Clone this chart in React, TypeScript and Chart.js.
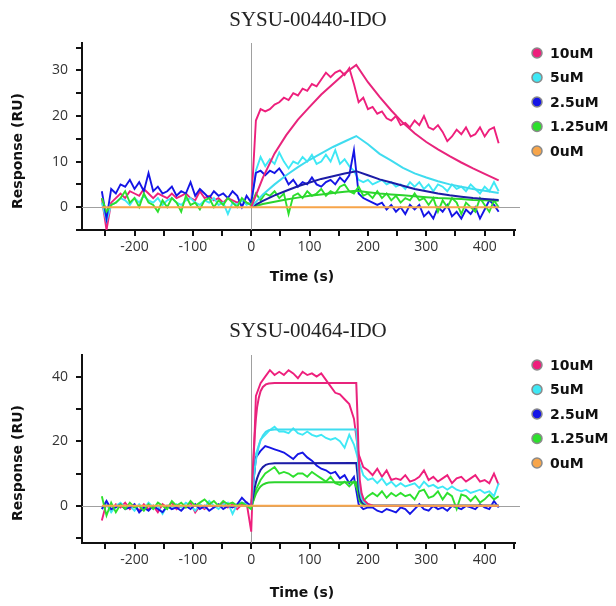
import React, { useEffect, useRef } from 'react';
import { Chart, registerables } from 'chart.js';

Chart.register(...registerables);

// ---------- shared ----------
const TIME = [
  -256, -248, -240, -232, -224, -216, -208, -200, -192, -184, -176, -168, -160, -152, -144, -136,
  -128, -120, -112, -104, -96, -88, -80, -72, -64, -56, -48, -40, -32, -24, -16, -8,
  0, 8, 16, 24, 32, 40, 48, 56, 64, 72, 80, 88, 96, 104, 112, 120, 128, 136, 144, 152, 160, 168,
  176, 184, 192, 200, 208, 216, 224, 232, 240, 248, 256, 264, 272, 280, 288, 296, 304, 312, 320,
  328, 336, 344, 352, 360, 368, 376, 384, 392, 400, 408, 416, 424,
];
const ZERO_TIME = [-256, 424];
const ZERO_VALUES = [0, 0];

const LEGEND_LABELS = ['10uM', '5uM', '2.5uM', '1.25uM', '0uM'];
const COLORS = ['#ee1f7c', '#3ee8f5', '#1515e6', '#2de02d', '#f7a54a'];
const FIT_COLORS = ['#e8247c', '#3fdcef', '#1c1ca6', '#2cd42c'];

const X_LABELS = [-200, -100, 0, 100, 200, 300, 400];

// ---------- chart A : SYSU-00440-IDO ----------
const A_TITLE = 'SYSU-00440-IDO';
const A_Y_LABELS = [0, 10, 20, 30];
const A_10 = [
  2, -5, 1, 2, 3, 2, 3.5, 3, 2.5, 4, 3, 2, 3, 2.5, 2, 3, 2, 2.5, 3, 2, 1.5, 3.5, 2, 2.5, 1.5, 2, 1, 2, 1.5, 1, 1.5, 1,
  0.5, 19, 21.5, 21, 21.5, 22.5, 23, 24, 23.5, 25, 24.5, 26, 25.5, 27, 26.5, 28, 29.5, 28.5, 29.5, 30,
  29, 30.5, 27, 23, 24, 21.5, 22, 20.5, 21, 19.5, 19, 20, 18, 18.5, 17.5, 19, 18, 20, 17.5, 17,
  18, 16.5, 14.5, 15.5, 17, 16, 17.5, 15.5, 16, 17.5, 15.5, 17, 17.5, 14,
];
const A_5 = [
  1, -3, 0.5, 1, 2, 1.5, 0.5, 2, 1, 2.5, 1.5, 1, 2, 0.5, 1.5, 2, 1, 0.5, 1.5, 2, 1, 0.5, 1.5, 1, 2, 0.5, 1, -1.5, 1, 0.5, 1.5, 0.5,
  1, 8, 11, 9, 10.5, 9.5, 12, 10, 8.5, 10, 9.5, 11, 10, 11.5, 9.5, 10, 11.5, 10, 12.5, 9.5,
  10.5, 9, 8, 6, 5.5, 6, 5, 5.5, 6, 5, 5.5, 4.5, 5, 4, 5.5, 4.5, 5.5, 4, 5, 3.5,
  5, 4.5, 3.5, 5, 4, 4.5, 3.5, 5, 4, 3, 4.5, 3.5, 5.5, 3.5,
];
const A_25 = [
  3.5, -2.5, 4, 3, 5, 4.5, 6, 4, 5.5, 3.5, 7.5, 3.5, 4.5, 3, 3.5, 4.5, 2.5, 3.5, 3, 5.5, 2.5, 4, 3, 2, 3.5, 2.5, 3, 2, 3.5, 2.5, 0, 2.5,
  1, 7.5, 8, 7, 8, 7.5, 8.5, 7, 5, 6, 4.5, 5.5, 5, 6.5, 5, 4.5, 5.5, 6, 5, 6.5,
  5.5, 7, 12.5, 3, 2, 1.5, 1, 0.5, 1, -0.5, 0.5, -1, 0, -1.5, 0.5, -0.5, 0.5, -2, -1, -2.5,
  0, -1, 0.5, -2, -1, -2.5, -0.5, -1.5, 0, -2.5, -0.5, 1.5, 0.5, -1,
];
const A_125 = [
  2, -1, 0.5, 1, 2, 3.5, 1, 2, 0, 3, 1, 0.5, -1, 1.5, 0, 2, 1, -1, 2.5, 0.5, 1, -0.5, 1.5, 2, 0, 1.5, 0.5, 2, 1, 0, 2, 1,
  0.5, 3, 1.5, 3, 2.5, 3.5, 2, 3, -1.5, 2.5, 3, 2, 3.5, 2.5, 3, 4, 2.5, 3.5, 3, 4.5,
  5, 3.5, 3, 4.5, 2.5, 3, 2, 3.5, 2, 3, 1.5, 2.5, 1, 2, 1.5, 3, 1.5, 2, 0.5, 2,
  -1, 1.5, 0, 2, 1, -1.5, 1, 0, -1, 2, 0.5, -1, 1.5, 0,
];
const A_FIT_TIME = [0, 20, 40, 60, 80, 100, 120, 140, 160, 180, 200, 220, 240, 260, 280, 300, 320, 340, 360, 380, 400, 424];
const A_FIT_10 = [0, 6.5, 11.8, 15.8, 19.2, 22, 24.7, 27, 29.3, 31.2, 27.4, 24.2, 21.2, 18.5, 16.2, 14.3, 12.7, 11.2, 9.8, 8.5, 7.3, 5.9];
const A_FIT_5 = [0, 2.8, 5, 7, 8.8, 10.4, 11.8, 13.2, 14.4, 15.6, 13.8, 11.7, 10.2, 8.6, 7.4, 6.5, 5.7, 5, 4.5, 4, 3.6, 3.1];
const A_FIT_25 = [0, 1.4, 2.6, 3.6, 4.6, 5.4, 6.2, 6.8, 7.4, 7.9, 7, 6.1, 5.4, 4.7, 4, 3.5, 3, 2.6, 2.3, 2, 1.8, 1.6];
const A_FIT_125 = [0, 0.7, 1.2, 1.7, 2.1, 2.5, 2.8, 3.1, 3.4, 3.6, 3.3, 3, 2.8, 2.6, 2.4, 2.2, 2, 1.9, 1.8, 1.6, 1.5, 1.4];

// ---------- chart B : SYSU-00464-IDO ----------
const B_TITLE = 'SYSU-00464-IDO';
const B_Y_LABELS = [0, 20, 40];
const B_10 = [
  -4.5, 1, -1.5, 0.5, -0.5, 1, -1, 0, -1.5, 0.5, -1, 0, -2, 0.5, -0.5, 1, -1, 0, -0.5, 1, -2, 0, -1, 0.5, -0.5, 0, 1, -0.5, 0.5, -1, 0.5, 1,
  -8, 34, 38, 40, 42, 40.5, 41.5, 40.5, 42, 41, 39.5, 41.5, 40.5, 41, 40, 41, 39, 37, 35, 34.5,
  33, 31.5, 27, 16, 12, 11, 9.5, 11.5, 9, 11, 8, 8.5, 8, 9.5, 7.5, 8, 9, 11, 8, 9,
  7.5, 8.5, 9.5, 7, 8.5, 9, 7.5, 8.5, 9.5, 7.5, 8, 7, 10, 6.5,
];
const B_5 = [
  -1, 0.5, -2, 0, 1, -0.5, 0, -1.5, 0.5, -1, 1, -0.5, 0, -2.5, 0, -1, 0.5, -0.5, 1, 0, -1.5, 0.5, -0.5, 1.5, 0, -1, 0.5, 1, -2.5, 0.5, 1, 0.5,
  0, 16, 20.5, 22, 23.5, 24.5, 23, 23, 22.5, 24, 22.5, 22, 23, 22, 21.5, 22, 21, 20.5, 21, 20,
  18, 22, 19, 14, 9.5, 8, 8.5, 7, 8.5, 6.5, 7.5, 6, 7, 6, 6.5, 7, 5.5, 7.5, 6, 6.5,
  5.5, 6, 5, 6, 5, 4.5, 5, 4, 4.5, 5, 4, 4.5, 3, 7,
];
const B_25 = [
  -1, 1.5, -1, -0.5, 0.5, -1, -0.5, 0.5, -2, -0.5, -1.5, 0, -1, -2, 0, -1, -0.5, -1.5, 0, -1, 0.5, -1, 0, -1.5, -0.5, 0.5, -1, 0, -0.5, 0.5, 2.5, 1,
  0, 15, 17, 18.5, 18, 17.5, 17, 16.5, 15.5, 14.5, 16, 16.5, 15, 14, 12.5, 11.5, 11, 10, 10.5, 8.5,
  9.5, 7, 9, 0.5, -1, -0.5, -0.5, -1.5, -2, -1, -1.5, -2, -0.5, -1, -2.5, -1, 0.5, -1, -1.5, 0,
  -1, -0.5, -1.5, 0, -0.5, -1, 0, -0.5, -1, 0.5, -0.5, -1, 1.5, -0.5,
];
const B_125 = [
  3, -3, 1, -2, 0.5, -1, 1, -0.5, 0, -1.5, 0.5, -1, 1, 0, -1, 1.5, 0, 1, -0.5, 1.5, 0, 1, 2, 0.5, 1.5, 0, 1.5, 0.5, 1, 0, 1, 0,
  -1, 5, 8, 10, 11, 12, 10, 10.5, 10, 9, 10, 10, 9, 10.5, 9.5, 8.5, 7.5, 9, 7, 6.5,
  7.5, 6, 7.5, 4, 1.5, 3, 4, 3, 4.5, 2.5, 4, 3, 4, 3, 3.5, 2, 4.5, 5, 2.5, 3,
  4.5, 2, 4, 3, -1, 3.5, 3, 1.5, 3, 1, 2, 3.5, 2, 3,
];
const B_FIT_TIME = [0, 2, 4, 6, 8, 10, 13, 16, 20, 25, 30, 40, 180, 182, 184, 186, 189, 193, 200, 210, 424];
const B_FIT_10 = [0, 8, 16, 22, 27, 30.5, 33.5, 35.5, 36.8, 37.6, 37.9, 38, 38, 28, 16, 8, 4, 1.8, 0.6, 0, 0];
const B_FIT_5 = [0, 4, 8, 11.5, 14, 16, 18.5, 20.3, 21.8, 22.9, 23.4, 23.6, 23.6, 17.5, 10, 5, 2.4, 1.1, 0.4, 0, 0];
const B_FIT_25 = [0, 1.8, 3.8, 5.6, 7.2, 8.5, 10, 11.1, 12, 12.7, 13, 13.2, 13.3, 9.8, 5.6, 2.8, 1.3, 0.6, 0.2, 0, 0];
const B_FIT_125 = [0, 0.8, 1.8, 2.8, 3.7, 4.4, 5.3, 6, 6.6, 7, 7.2, 7.3, 7.3, 5.4, 3.1, 1.5, 0.7, 0.3, 0.1, 0, 0];

// ---------- helpers ----------
const pts = (xs: number[], ys: number[]) => xs.map((x, i) => ({ x, y: ys[i] }));

const TICK_FONT = '"Open Sans", "DejaVu Sans", sans-serif';
const BOLD_FONT = '"DejaVu Sans", "Open Sans", sans-serif';

type Spec = {
  title: string;
  noisy: number[][];
  fitTime: number[];
  fits: number[][];
  yMin: number;
  yMax: number;
  yStep: number;
  yLabels: number[];
  plotTop: number;
  plotBottom: number;
  titleY: number;
  xTitleY: number;
  yTitleY: number;
};

const CANVAS_W = 616;
const CANVAS_H = 303;

function buildConfig(spec: Spec): any {
  const datasets: any[] = [];
  datasets.push({
    data: pts(ZERO_TIME, ZERO_VALUES),
    borderColor: COLORS[4],
    borderWidth: 2,
  });
  spec.fits.forEach((f, i) => {
    datasets.push({ data: pts(spec.fitTime, f), borderColor: FIT_COLORS[i], borderWidth: 2 });
  });
  [3, 2, 1, 0].forEach((i) => {
    datasets.push({ data: pts(TIME, spec.noisy[i]), borderColor: COLORS[i], borderWidth: 1.9 });
  });

  const decor = {
    id: 'decor',
    beforeDatasetsDraw(chart: any) {
      const { ctx, chartArea, scales } = chart;
      const x0 = Math.round(scales.x.getPixelForValue(0)) + 0.5;
      const y0 = Math.round(scales.y.getPixelForValue(0)) + 0.5;
      ctx.save();
      ctx.strokeStyle = '#a0a0a0';
      ctx.lineWidth = 1;
      ctx.beginPath();
      ctx.moveTo(x0, chartArea.top);
      ctx.lineTo(x0, chartArea.bottom);
      ctx.moveTo(chartArea.left, y0);
      ctx.lineTo(chartArea.right + 5, y0);
      ctx.stroke();
      ctx.restore();
    },
    afterDraw(chart: any) {
      const { ctx, chartArea } = chart;
      ctx.save();
      ctx.fillStyle = '#222';
      ctx.font = '21px "Liberation Serif", "Times New Roman", serif';
      ctx.textAlign = 'center';
      ctx.textBaseline = 'middle';
      ctx.fillText(spec.title, 308, spec.titleY);
      ctx.fillStyle = '#111';
      ctx.font = 'bold 14px ' + BOLD_FONT;
      ctx.fillText('Time (s)', 302, spec.xTitleY);
      ctx.save();
      ctx.translate(18, spec.yTitleY);
      ctx.rotate(-Math.PI / 2);
      ctx.fillText('Response (RU)', 0, 0);
      ctx.restore();
      LEGEND_LABELS.forEach((lab, i) => {
        const cy = chartArea.top + 10 + i * 24.5;
        ctx.beginPath();
        ctx.arc(537, cy, 5, 0, Math.PI * 2);
        ctx.fillStyle = COLORS[i];
        ctx.fill();
        ctx.lineWidth = 1.5;
        ctx.strokeStyle = '#8a8a8a';
        ctx.stroke();
        ctx.fillStyle = '#111';
        ctx.font = 'bold 14px ' + BOLD_FONT;
        ctx.textAlign = 'left';
        ctx.textBaseline = 'middle';
        ctx.fillText(lab, 550, cy + 1);
      });
      ctx.restore();
    },
  };

  return {
    type: 'line',
    data: { datasets },
    options: {
      responsive: false,
      animation: false,
      events: [],
      elements: { point: { radius: 0 }, line: { tension: 0 } },
      layout: {
        autoPadding: false,
        padding: { left: 0, right: CANVAS_W - 515, top: spec.plotTop, bottom: 0 },
      },
      plugins: { legend: { display: false }, tooltip: { enabled: false }, title: { display: false } },
      scales: {
        x: {
          type: 'linear',
          min: -290,
          max: 452,
          afterFit: (s: any) => {
            s.height = CANVAS_H - spec.plotBottom;
          },
          ticks: {
            stepSize: 50,
            includeBounds: false,
            autoSkip: false,
            maxRotation: 0,
            padding: 3,
            color: '#333',
            font: { family: TICK_FONT, size: 14 },
            callback: (v: any) => (X_LABELS.includes(Number(v)) ? String(v) : ''),
          },
          grid: { drawOnChartArea: false, drawTicks: true, tickLength: 6, color: '#111', lineWidth: 2 },
          border: { display: true, color: '#111', width: 2 },
        },
        y: {
          type: 'linear',
          min: spec.yMin,
          max: spec.yMax,
          afterFit: (s: any) => {
            s.width = 82;
          },
          ticks: {
            stepSize: spec.yStep,
            includeBounds: false,
            autoSkip: false,
            padding: 8,
            color: '#333',
            font: { family: TICK_FONT, size: 14 },
            callback: (v: any) => (spec.yLabels.includes(Number(v)) ? String(v) : ''),
          },
          grid: { drawOnChartArea: false, drawTicks: true, tickLength: 6, color: '#111', lineWidth: 2 },
          border: { display: true, color: '#111', width: 2 },
        },
      },
    },
    plugins: [decor],
  };
}

const SPEC_A: Spec = {
  title: A_TITLE,
  noisy: [A_10, A_5, A_25, A_125],
  fitTime: A_FIT_TIME,
  fits: [A_FIT_10, A_FIT_5, A_FIT_25, A_FIT_125],
  yMin: -5,
  yMax: 36,
  yStep: 5,
  yLabels: A_Y_LABELS,
  plotTop: 43,
  plotBottom: 230,
  titleY: 20,
  xTitleY: 277,
  yTitleY: 151,
};

const SPEC_B: Spec = {
  title: B_TITLE,
  noisy: [B_10, B_5, B_25, B_125],
  fitTime: B_FIT_TIME,
  fits: [B_FIT_10, B_FIT_5, B_FIT_25, B_FIT_125],
  yMin: -11.5,
  yMax: 46.7,
  yStep: 10,
  yLabels: B_Y_LABELS,
  plotTop: 52,
  plotBottom: 240,
  titleY: 28,
  xTitleY: 290,
  yTitleY: 160,
};

function SprChart({ spec, top }: { spec: Spec; top: number }) {
  const ref = useRef<HTMLCanvasElement>(null);
  useEffect(() => {
    const chart = new Chart(ref.current as HTMLCanvasElement, buildConfig(spec));
    return () => chart.destroy();
  }, [spec]);
  return (
    <canvas
      ref={ref}
      width={CANVAS_W}
      height={CANVAS_H}
      style={{ position: 'absolute', left: 0, top, width: CANVAS_W, height: CANVAS_H, display: 'block' }}
    />
  );
}

export default function App() {
  return (
    <div style={{ position: 'absolute', left: 0, top: 0, width: 616, height: 606, background: '#fff' }}>
      <SprChart spec={SPEC_A} top={0} />
      <SprChart spec={SPEC_B} top={303} />
    </div>
  );
}
